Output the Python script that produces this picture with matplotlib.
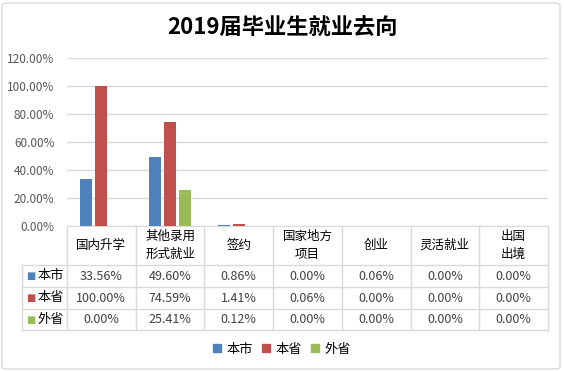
import matplotlib
matplotlib.use("Agg")
import matplotlib.pyplot as plt
from matplotlib.patches import Patch, FancyBboxPatch
from matplotlib.transforms import blended_transform_factory

plt.rcParams['font.family'] = ['Noto Sans CJK SC', 'DejaVu Sans']

categories = ['国内升学', '其他录用\n形式就业', '签约', '国家地方\n项目', '创业', '灵活就业', '出国\n出境']
series = ['本市', '本省', '外省']
city = [33.56, 49.60, 0.86, 0.00, 0.06, 0.00, 0.00]
province = [100.00, 74.59, 1.41, 0.06, 0.00, 0.00, 0.00]
outside = [0.00, 25.41, 0.12, 0.00, 0.00, 0.00, 0.00]
colors = ['#4F81BD', '#C0504D', '#9BBB59']
yticks = [0, 20, 40, 60, 80, 100, 120]

W, H = 564, 371
fig = plt.figure(figsize=(W / 100, H / 100), dpi=100)
grid_c = '#D9D9D9'
text_c = '#404040'

# chart border
fig.patches.append(FancyBboxPatch((2 / W, 2 / H), 558 / W, 366 / H, boxstyle='round,pad=0,rounding_size=0.008',
                                  transform=fig.transFigure, fc='none', ec=grid_c, lw=1))

fig.text(0.5, 1 - 28 / H, '2019届毕业生就业去向', ha='center', va='center',
         fontsize=16, fontweight='bold', color='black')

ax = fig.add_axes([67 / W, (H - 226) / H, 481 / W, 168 / H])
data = [city, province, outside]
n = len(categories)
width = 0.175
step = 0.218
for k, vals in enumerate(data):
    xs = [i + (k - 1) * step for i in range(n)]
    ax.bar(xs, vals, width=width, color=colors[k], zorder=3)

ax.set_xlim(-0.5, n - 0.5)
ax.set_ylim(0, 120)
ax.set_yticks(yticks)
ax.set_yticklabels([f'{v:.2f}%' for v in yticks], fontsize=8.5, color='#595959')
ax.tick_params(axis='y', length=0, pad=9)
ax.set_xticks([])
ax.grid(axis='y', color=grid_c, lw=1, zorder=0)
for s in ['top', 'right', 'left']:
    ax.spines[s].set_visible(False)
ax.spines['bottom'].set_color(grid_c)

# data table below the axis
tr = blended_transform_factory(ax.transData, ax.transAxes)
ah = 168.0
hdr = -39 / ah
rows = [hdr, -61 / ah, -83 / ah, -104 / ah]
lab_left = -0.5 - 45 / (481 / n)

for i in range(n + 1):
    ax.plot([i - 0.5, i - 0.5], [0, rows[-1]], color=grid_c, lw=1, transform=tr, clip_on=False)
ax.plot([lab_left, lab_left], [hdr, rows[-1]], color=grid_c, lw=1, transform=tr, clip_on=False)
for y in rows:
    ax.plot([lab_left, n - 0.5], [y, y], color=grid_c, lw=1, transform=tr, clip_on=False)

for i, c in enumerate(categories):
    ax.text(i, hdr / 2, c, ha='center', va='center', fontsize=9, color='black',
            transform=tr, linespacing=1.45)

for k, vals in enumerate(data):
    yc = (rows[k] + rows[k + 1]) / 2
    for i, v in enumerate(vals):
        ax.text(i, yc, f'{v:.2f}%', ha='center', va='center', fontsize=9, color=text_c, transform=tr)
    ax.text(lab_left + 0.06, yc, '■', ha='left', va='center', fontsize=7, color=colors[k],
            transform=tr, family='DejaVu Sans')
    ax.text(lab_left + 0.23, yc, series[k], ha='left', va='center', fontsize=9.5, color='black', transform=tr)

handles = [Patch(color=colors[k], label=series[k]) for k in range(3)]
fig.legend(handles=handles, loc='center', bbox_to_anchor=(0.5, 1 - 349 / H), ncol=3, frameon=False,
           fontsize=9.5, handlelength=0.6, handleheight=0.6, handletextpad=0.4, columnspacing=0.7)

fig.savefig('out.png', dpi=100)
